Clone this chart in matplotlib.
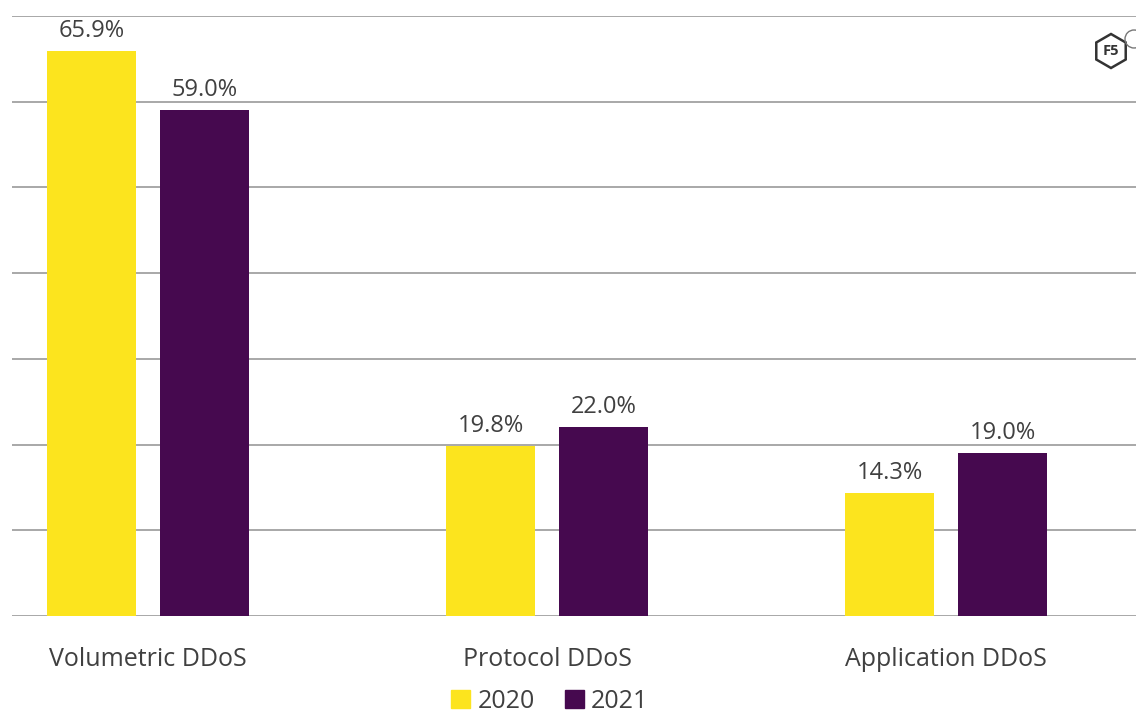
import matplotlib.pyplot as plt
import numpy as np
from matplotlib.patches import RegularPolygon, Circle

categories = ["Volumetric DDoS", "Protocol DDoS", "Application DDoS"]
years = ["2020", "2021"]
share_2020 = [65.9, 19.8, 14.3]
share_2021 = [59.0, 22.0, 19.0]

YELLOW = "#FCE41E"
PURPLE = "#46094F"
TEXT = "#404040"
GRID = "#9A9A9A"

plt.rcParams["font.family"] = ["Open Sans", "DejaVu Sans"]

fig = plt.figure(figsize=(11.36, 7.13), dpi=100)
ax = fig.add_axes([0.0106, 0.136, 0.9894, 0.8415])

x = np.arange(len(categories))
width = 0.223
offset = 0.1415

for vals, shift, color in [(share_2020, -offset, YELLOW), (share_2021, offset, PURPLE)]:
    bars = ax.bar(x + shift, vals, width, color=color, zorder=3)
    for bar, v in zip(bars, vals):
        ax.text(bar.get_x() + bar.get_width() / 2, v + 1.0, f"{v:.1f}%",
                ha="center", va="bottom", fontsize=17, color=TEXT)

ax.set_ylim(0, 70)
ax.set_xlim(-0.341, 2.476)
ax.set_yticks(np.arange(0, 71, 10))
ax.yaxis.grid(True, color=GRID, linewidth=1.2, zorder=0)
ax.tick_params(axis="y", left=False, labelleft=False)
ax.tick_params(axis="x", length=0, pad=22, labelsize=18, labelcolor=TEXT)
ax.set_xticks(x)
ax.set_xticklabels(categories)
for side in ["top", "right", "left", "bottom"]:
    ax.spines[side].set_visible(False)

# legend squares and labels along the bottom
handles = [plt.Rectangle((0, 0), 1, 1, color=c) for c in (YELLOW, PURPLE)]
fig.legend(handles, years, loc="lower center", bbox_to_anchor=(0.484, -0.033),
           ncol=2, frameon=False, fontsize=18, labelcolor=TEXT,
           handlelength=0.75, handleheight=0.75, handletextpad=0.3,
           columnspacing=1.2)

# F5 mark in the top-right corner, laid out in pixel-sized units
logo_ax = fig.add_axes([1090 / 1136, (713 - 75) / 713, 46 / 1136, 55 / 713])
logo_ax.set_xlim(0, 46)
logo_ax.set_ylim(0, 55)
logo_ax.axis("off")
logo_ax.add_patch(RegularPolygon((21, 24), 6, radius=17, orientation=0,
                                 fill=False, edgecolor="#333333", linewidth=1.8))
logo_ax.text(21, 24, "F5", ha="center", va="center", fontsize=10.5,
             color="#333333", fontweight="bold")
logo_ax.add_patch(Circle((44, 36), 9, fill=False, edgecolor="#777777",
                         linewidth=1.0))

fig.savefig("out.png", dpi=100)
